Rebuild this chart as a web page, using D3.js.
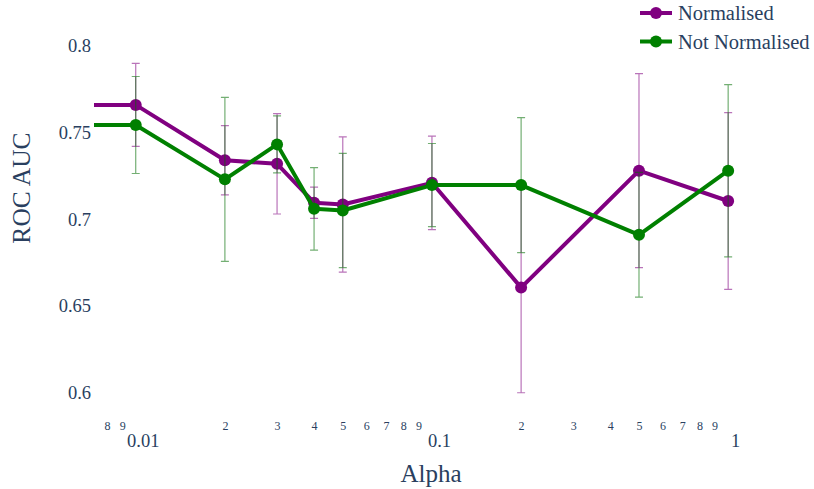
<!DOCTYPE html>
<html>
<head>
<meta charset="utf-8">
<script src="https://cdn.jsdelivr.net/npm/d3@7"></script>
<style>
    body { margin: 0; background: #fff; }
</style>
</head>
<body>
<div id="chart"></div>
<script>
"use strict";

const font = "'Liberation Serif', 'Times New Roman', serif";

// alpha values (log axis); first point sits off the left edge
const alpha = [0.001, 0.01, 0.02, 0.03, 0.04, 0.05, 0.1, 0.2, 0.5, 1];

const normMean = [0.766, 0.766, 0.734, 0.732, 0.7095, 0.7085, 0.721, 0.6605, 0.728, 0.7105];
const normErr  = [0.024, 0.024, 0.020, 0.029, 0.009, 0.039, 0.027, 0.0607, 0.056, 0.051];

const notMean = [0.7544, 0.7544, 0.723, 0.7432, 0.706, 0.705, 0.7197, 0.7197, 0.691, 0.728];
const notErr  = [0.028, 0.028, 0.0473, 0.0165, 0.0238, 0.033, 0.024, 0.039, 0.036, 0.0497];

const yTicks = [0.6, 0.65, 0.7, 0.75, 0.8];
const yLabels = ["0.6", "0.65", "0.7", "0.75", "0.8"];

const majorTicks = [0.01, 0.1, 1];
const majorLabels = ["0.01", "0.1", "1"];

const minorTicks = [0.008, 0.009, 0.02, 0.03, 0.04, 0.05, 0.06, 0.07, 0.08, 0.09,
                    0.2, 0.3, 0.4, 0.5, 0.6, 0.7, 0.8, 0.9];
const minorLabels = ["8", "9", "2", "3", "4", "5", "6", "7", "8", "9",
                     "2", "3", "4", "5", "6", "7", "8", "9"];

const series = [
    {name: "Normalised", color: "purple", err: "rgba(128,0,128,0.55)", mean: normMean, sd: normErr},
    {name: "Not Normalised", color: "green", err: "rgba(0,110,0,0.55)", mean: notMean, sd: notErr}
];


const width = 814;
const height = 489;
const plot = {left: 94, right: 768};

const x = d3.scaleLog()
    .domain([0.00723, 1.363])
    .range([plot.left, plot.right]);

const y = d3.scaleLinear()
    .domain([0.6, 0.8])
    .range([392.4, 46]);

const svg = d3.select("#chart").append("svg")
    .attr("width", width)
    .attr("height", height);

svg.append("defs").append("clipPath")
    .attr("id", "clip")
  .append("rect")
    .attr("x", plot.left)
    .attr("y", 0)
    .attr("width", plot.right - plot.left)
    .attr("height", height);

// y axis
svg.append("g")
    .attr("transform", `translate(${plot.left},0)`)
    .call(d3.axisLeft(y).tickValues(yTicks).tickFormat((d, i) => yLabels[i]).tickSize(0).tickPadding(3))
    .call(g => g.select(".domain").remove())
    .call(g => g.selectAll("text").attr("font-size", 18.5));

// x axis: small digit labels
svg.append("g")
    .attr("transform", "translate(0,421.5)")
    .call(d3.axisBottom(x).tickValues(minorTicks).tickFormat((d, i) => minorLabels[i]).tickSize(0).tickPadding(0))
    .call(g => g.select(".domain").remove())
    .call(g => g.selectAll("text").attr("font-size", 12));

// x axis: decades
svg.append("g")
    .attr("transform", "translate(0,434)")
    .call(d3.axisBottom(x).tickValues(majorTicks).tickFormat((d, i) => majorLabels[i]).tickSize(0).tickPadding(0))
    .call(g => g.select(".domain").remove())
    .call(g => g.selectAll("text").attr("dx", 7).attr("font-size", 18.5));

// titles
svg.append("text")
    .attr("x", 431)
    .attr("y", 481.5)
    .attr("text-anchor", "middle")
    .attr("font-size", 25)
    .text("Alpha");

svg.append("text")
    .attr("transform", "translate(30,188) rotate(-90)")
    .attr("text-anchor", "middle")
    .attr("font-size", 25.5)
    .text("ROC AUC");


const line = d3.line()
    .x(d => x(d.a))
    .y(d => y(d.v));

const plotArea = svg.append("g")
    .attr("clip-path", "url(#clip)");

series.forEach(s => {

    const pts = alpha.map((a, i) => ({a: a, v: s.mean[i], e: s.sd[i]}));

    const g = plotArea.append("g");

    g.append("g")
        .attr("stroke", s.err)
        .attr("stroke-width", 1.2)
        .attr("fill", "none")
    .selectAll("path")
    .data(pts)
    .join("path")
        .attr("d", d => {
            const cx = x(d.a), y0 = y(d.v + d.e), y1 = y(d.v - d.e);
            return `M${cx},${y0}V${y1}M${cx - 4},${y0}H${cx + 4}M${cx - 4},${y1}H${cx + 4}`;
        });

    g.append("path")
        .datum(pts)
        .attr("fill", "none")
        .attr("stroke", s.color)
        .attr("stroke-width", 4)
        .attr("stroke-linejoin", "round")
        .attr("d", line);

    g.append("g")
        .attr("fill", s.color)
    .selectAll("circle")
    .data(pts)
    .join("circle")
        .attr("cx", d => x(d.a))
        .attr("cy", d => y(d.v))
        .attr("r", 6);
});


// legend
const legend = svg.append("g")
  .selectAll("g")
  .data(series)
  .join("g")
    .attr("transform", (d, i) => `translate(640,${13 + i * 28.5})`);

legend.append("line")
    .attr("x1", 0)
    .attr("x2", 32)
    .attr("stroke", d => d.color)
    .attr("stroke-width", 4);

legend.append("circle")
    .attr("cx", 16)
    .attr("r", 6)
    .attr("fill", d => d.color);

legend.append("text")
    .attr("x", 38)
    .attr("dy", "0.35em")
    .attr("font-size", 20.5)
    .text(d => d.name);

// one font and colour for every label
svg.selectAll("text")
    .attr("font-family", font)
    .style("font-family", font)
    .attr("fill", "#2a3f5f");

</script>
</body>
</html>
